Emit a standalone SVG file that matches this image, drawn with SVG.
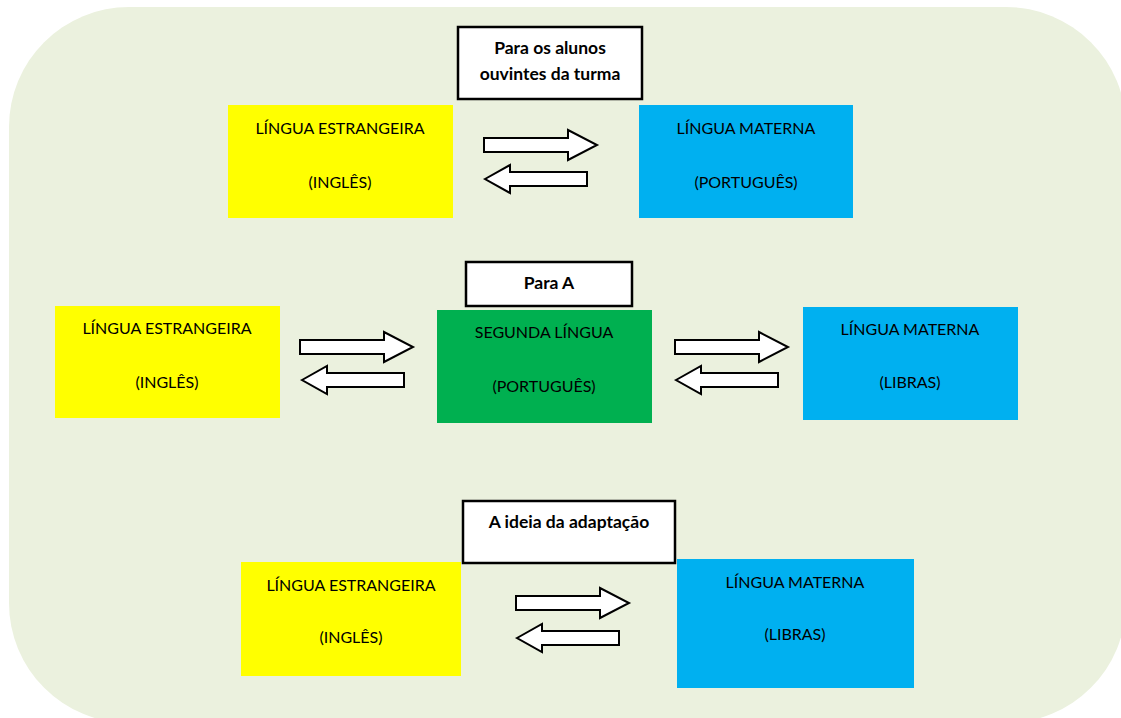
<svg xmlns="http://www.w3.org/2000/svg" xmlns:xlink="http://www.w3.org/1999/xlink" width="1121" height="718" viewBox="0 0 1121 718">
<style>
.hdr{fill:#ffffff;stroke:#000000;stroke-width:2.5}
.ht{font-family:Lato,"Liberation Sans",sans-serif;font-weight:bold;font-size:17.5px;fill:#000;text-anchor:middle}
.bt{font-family:Lato,"Liberation Sans",sans-serif;font-size:16px;fill:#000;text-anchor:middle}
.arr{fill:#ffffff;stroke:#000000;stroke-width:2;stroke-linejoin:miter}
</style>
<defs>
<path id="ar" d="M0,-7 H84 V-15 L113,0 L84,15 V7 H0 Z"/>
<path id="al" d="M0,0 L25,-14 V-7 H102 V7 H25 V14 Z"/>
</defs>
<rect x="9" y="7" width="1117" height="716" rx="120" ry="120" fill="#EBF1DE"/>

<g id="header1">
<rect class="hdr" x="458" y="27" width="184" height="72"/>
<text class="ht" x="550" y="54">Para os alunos</text>
<text class="ht" x="550" y="80">ouvintes da turma</text>
</g>
<g id="le1">
<rect x="228" y="105" width="225" height="113" fill="#FFFF00"/>
<text class="bt" x="340" y="134">LÍNGUA ESTRANGEIRA</text>
<text class="bt" x="340" y="188">(INGLÊS)</text>
</g>
<g id="lm1">
<rect x="639" y="105" width="214" height="113" fill="#00B0F0"/>
<text class="bt" x="746" y="134">LÍNGUA MATERNA</text>
<text class="bt" x="746" y="188">(PORTUGUÊS)</text>
</g>

<g id="header2">
<rect class="hdr" x="466" y="262" width="166" height="44"/>
<text class="ht" x="549" y="289">Para A</text>
</g>
<g id="le2">
<rect x="55" y="306" width="225" height="112" fill="#FFFF00"/>
<text class="bt" x="167" y="334">LÍNGUA ESTRANGEIRA</text>
<text class="bt" x="167" y="388">(INGLÊS)</text>
</g>
<g id="sl2">
<rect x="437" y="310" width="215" height="113" fill="#00B050"/>
<text class="bt" x="544" y="338">SEGUNDA LÍNGUA</text>
<text class="bt" x="544" y="392">(PORTUGUÊS)</text>
</g>
<g id="lm2">
<rect x="803" y="307" width="215" height="113" fill="#00B0F0"/>
<text class="bt" x="910" y="335">LÍNGUA MATERNA</text>
<text class="bt" x="910" y="388">(LIBRAS)</text>
</g>

<g id="header3">
<rect class="hdr" x="463" y="501" width="212" height="62"/>
<text class="ht" x="569" y="528">A ideia da adaptação</text>
</g>
<g id="le3">
<rect x="241" y="562" width="220" height="114" fill="#FFFF00"/>
<text class="bt" x="351" y="591">LÍNGUA ESTRANGEIRA</text>
<text class="bt" x="351" y="643">(INGLÊS)</text>
</g>
<g id="lm3">
<rect x="677" y="559" width="237" height="129" fill="#00B0F0"/>
<text class="bt" x="795" y="588">LÍNGUA MATERNA</text>
<text class="bt" x="795" y="640">(LIBRAS)</text>
</g>

<g id="connectors">
<use xlink:href="#ar" class="arr" transform="translate(484,145)"/>
<use xlink:href="#al" class="arr" transform="translate(485,179)"/>
<use xlink:href="#ar" class="arr" transform="translate(300,347)"/>
<use xlink:href="#al" class="arr" transform="translate(302,380)"/>
<use xlink:href="#ar" class="arr" transform="translate(675,347)"/>
<use xlink:href="#al" class="arr" transform="translate(676,380)"/>
<use xlink:href="#ar" class="arr" transform="translate(516,603)"/>
<use xlink:href="#al" class="arr" transform="translate(517,638)"/>
</g>
</svg>
